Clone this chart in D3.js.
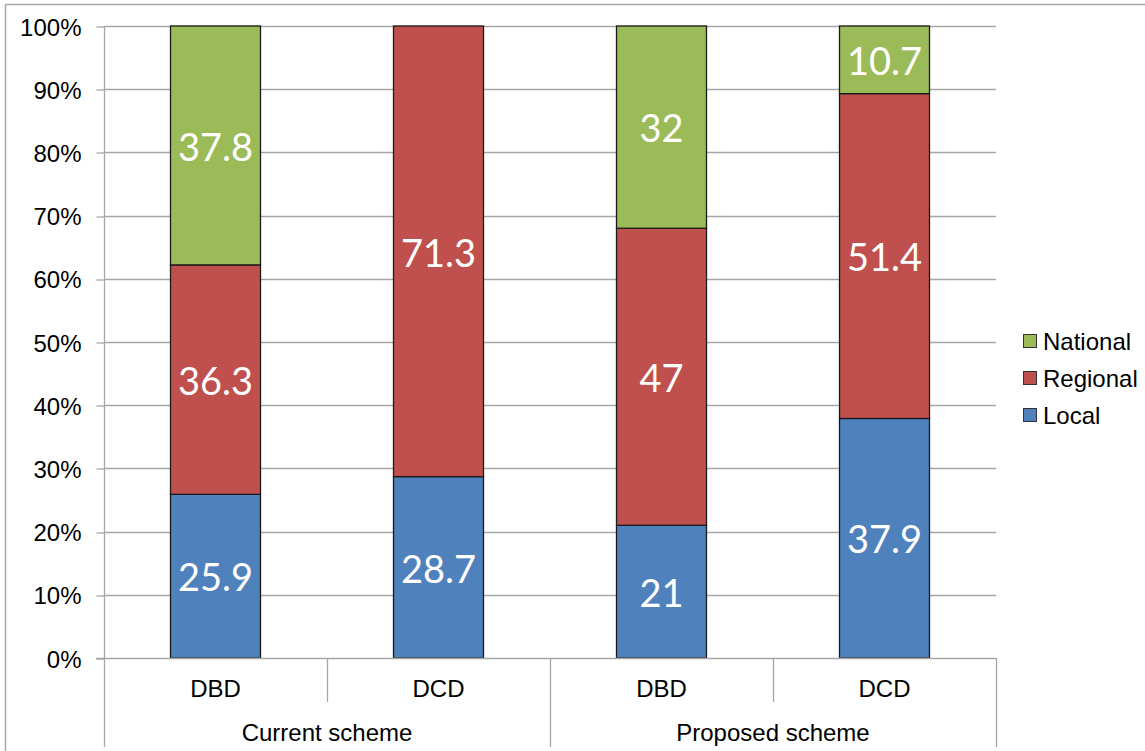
<!DOCTYPE html>
<html>
<head>
<meta charset="utf-8">
<script src="https://cdn.jsdelivr.net/npm/d3@7"></script>
<style>
  html, body { margin: 0; padding: 0; background: #fff; }
  svg { display: block; }
</style>
</head>
<body>
<svg id="chart" width="1145" height="751"></svg>
<script>
// Categories: inner label + outer scheme group
const categories = ["DBD", "DCD", "DBD", "DCD"];
const schemes = ["Current scheme", "Proposed scheme"];
const schemeOfCategory = [0, 0, 1, 1];

// Series values (percent share), bottom to top
const seriesNames = ["Local", "Regional", "National"];
const localValues = [25.9, 28.7, 21, 37.9];
const regionalValues = [36.3, 71.3, 47, 51.4];
const nationalValues = [37.8, 0, 32, 10.7];
const seriesColors = ["#4F81BD", "#C0504D", "#9BBB59"];

const yTicks = [0, 10, 20, 30, 40, 50, 60, 70, 80, 90, 100];

const svg = d3.select("#chart");
const W = 1145, H = 751;
const plot = { left: 104, right: 996, top: 26, bottom: 658 };
const axisFont = "'Liberation Sans', Arial, sans-serif";
const axisSize = 24;

// outer chart border
svg.append("rect")
  .attr("x", 5.5).attr("y", 4.5)
  .attr("width", W + 10).attr("height", H + 10)
  .attr("fill", "none").attr("stroke", "#a6a6a6").attr("stroke-width", 1.5);

const idx = d3.range(categories.length);
const x = d3.scaleBand().domain(idx).range([plot.left, plot.right]).paddingInner(0).paddingOuter(0);
const y = d3.scaleLinear().domain([0, 100]).range([plot.bottom, plot.top]);

// gridlines
svg.append("g").selectAll("line").data(yTicks.filter(d => d > 0)).join("line")
  .attr("x1", plot.left).attr("x2", plot.right)
  .attr("y1", d => Math.round(y(d)) + 0.5).attr("y2", d => Math.round(y(d)) + 0.5)
  .attr("stroke", "#a6a6a6").attr("stroke-width", 1.3);

// y axis
const yAxis = d3.axisLeft(y).tickValues(yTicks).tickFormat(d => d + "%").tickSize(8).tickPadding(15);
const yg = svg.append("g").attr("transform", `translate(${plot.left + 0.5},0.5)`).call(yAxis);
yg.select(".domain").remove();
yg.selectAll(".tick line").attr("stroke", "#a6a6a6").attr("stroke-width", 1.3)
  .attr("transform", d => `translate(0,${Math.round(y(d)) - y(d)})`);
yg.selectAll(".tick text").attr("font-family", axisFont).attr("font-size", axisSize).attr("fill", "#000")
  .attr("dy", "0.36em");

// stacked data
const rows = idx.map(i => ({ i, Local: localValues[i], Regional: regionalValues[i], National: nationalValues[i] }));
const stack = d3.stack().keys(seriesNames)(rows);

const barW = 90;
const layers = svg.append("g").selectAll("g").data(stack).join("g")
  .attr("fill", (d, k) => seriesColors[k]);

layers.selectAll("rect").data(d => d.filter(s => s[1] - s[0] > 0)).join("rect")
  .attr("x", s => x(s.data.i) + x.bandwidth() / 2 - barW / 2)
  .attr("y", s => y(s[1]))
  .attr("width", barW)
  .attr("height", s => y(s[0]) - y(s[1]))
  .attr("stroke", "#1a1a1a").attr("stroke-width", 1.3);

// value labels
const labelFont = "Lato, 'Open Sans', sans-serif";
stack.forEach((layer, k) => {
  svg.append("g").selectAll("text").data(layer.filter(s => s[1] - s[0] > 0)).join("text")
    .attr("x", s => x(s.data.i) + x.bandwidth() / 2)
    .attr("y", s => y((s[0] + s[1]) / 2))
    .attr("dy", "0.4em")
    .attr("text-anchor", "middle")
    .attr("font-family", labelFont).attr("font-size", 38)
    .attr("fill", "#fff")
    .text(s => d3.format("~g")(s[1] - s[0]));
});

// horizontal zero axis
svg.append("line")
  .attr("x1", plot.left - 8).attr("x2", plot.right)
  .attr("y1", plot.bottom + 0.5).attr("y2", plot.bottom + 0.5)
  .attr("stroke", "#a6a6a6").attr("stroke-width", 1.3);

// left axis line extending down through the category band
svg.append("line")
  .attr("x1", plot.left + 0.5).attr("x2", plot.left + 0.5)
  .attr("y1", plot.top).attr("y2", 747)
  .attr("stroke", "#a6a6a6").attr("stroke-width", 1.3);

// multi-level category axis separators
idx.forEach(i => {
  if (i === 0) return;
  const xb = Math.round(x(i)) + 0.5;
  const isGroupEdge = schemeOfCategory[i] !== schemeOfCategory[i - 1];
  svg.append("line")
    .attr("x1", xb).attr("x2", xb)
    .attr("y1", plot.bottom).attr("y2", isGroupEdge ? 747 : 702)
    .attr("stroke", "#a6a6a6").attr("stroke-width", 1.3);
});
svg.append("line")
  .attr("x1", plot.right + 0.5).attr("x2", plot.right + 0.5)
  .attr("y1", plot.bottom).attr("y2", 747)
  .attr("stroke", "#a6a6a6").attr("stroke-width", 1.3);

// inner category labels
svg.append("g").selectAll("text").data(idx).join("text")
  .attr("x", i => x(i) + x.bandwidth() / 2)
  .attr("y", 688).attr("dy", "0.36em")
  .attr("text-anchor", "middle")
  .attr("font-family", axisFont).attr("font-size", axisSize).attr("fill", "#000")
  .text(i => categories[i]);

// outer group labels
svg.append("g").selectAll("text").data(schemes).join("text")
  .attr("x", (d, g) => {
    const members = idx.filter(i => schemeOfCategory[i] === g);
    return (x(members[0]) + x(members[members.length - 1]) + x.bandwidth()) / 2;
  })
  .attr("y", 732).attr("dy", "0.36em")
  .attr("text-anchor", "middle")
  .attr("font-family", axisFont).attr("font-size", axisSize).attr("fill", "#000")
  .text(d => d);

// legend (top entry = top series)
const legendItems = seriesNames.map((n, k) => ({ n, c: seriesColors[k] })).reverse();
const lg = svg.append("g").selectAll("g").data(legendItems).join("g")
  .attr("transform", (d, k) => `translate(1023, ${341 + k * 37})`);
lg.append("rect").attr("x", 0.5).attr("y", -6.5).attr("width", 13).attr("height", 13)
  .attr("fill", d => d.c).attr("stroke", "#333").attr("stroke-width", 1);
lg.append("text").attr("x", 20).attr("y", 0).attr("dy", "0.36em")
  .attr("font-family", axisFont).attr("font-size", axisSize).attr("fill", "#000")
  .text(d => d.n);
</script>
</body>
</html>
